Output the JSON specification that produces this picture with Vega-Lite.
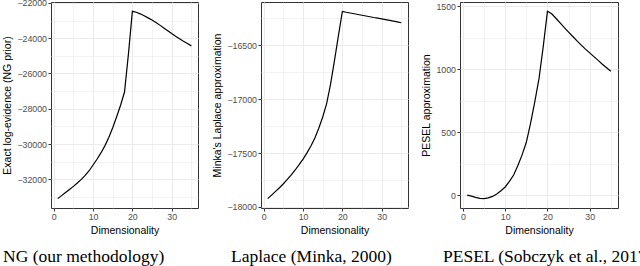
{
  "$schema": "https://vega.github.io/schema/vega-lite/v6.json",
  "padding": {"left": 2, "top": -2, "right": 0, "bottom": 0},
  "background": "white",
  "datasets": {
    "curves": [
      {"dim": 1, "ng": -33090, "laplace": -17923, "pesel": 0},
      {"dim": 2, "ng": -32920, "laplace": -17890, "pesel": -8},
      {"dim": 3, "ng": -32745, "laplace": -17856, "pesel": -18},
      {"dim": 4, "ng": -32570, "laplace": -17822, "pesel": -25},
      {"dim": 5, "ng": -32395, "laplace": -17785, "pesel": -28},
      {"dim": 6, "ng": -32205, "laplace": -17745, "pesel": -22},
      {"dim": 7, "ng": -31995, "laplace": -17703, "pesel": -10},
      {"dim": 8, "ng": -31770, "laplace": -17657, "pesel": 10},
      {"dim": 9, "ng": -31510, "laplace": -17608, "pesel": 35},
      {"dim": 10, "ng": -31185, "laplace": -17556, "pesel": 65},
      {"dim": 11, "ng": -30860, "laplace": -17498, "pesel": 110},
      {"dim": 12, "ng": -30500, "laplace": -17435, "pesel": 160},
      {"dim": 13, "ng": -30100, "laplace": -17360, "pesel": 235},
      {"dim": 14, "ng": -29620, "laplace": -17270, "pesel": 320},
      {"dim": 15, "ng": -29070, "laplace": -17165, "pesel": 420},
      {"dim": 16, "ng": -28450, "laplace": -17040, "pesel": 570},
      {"dim": 17, "ng": -27800, "laplace": -16860, "pesel": 740},
      {"dim": 18, "ng": -27050, "laplace": -16640, "pesel": 925},
      {"dim": 19, "ng": -24900, "laplace": -16410, "pesel": 1180},
      {"dim": 20, "ng": -22480, "laplace": -16184, "pesel": 1460},
      {"dim": 21, "ng": -22530, "laplace": -16192, "pesel": 1440},
      {"dim": 22, "ng": -22620, "laplace": -16199, "pesel": 1405},
      {"dim": 23, "ng": -22730, "laplace": -16206, "pesel": 1368},
      {"dim": 24, "ng": -22850, "laplace": -16213, "pesel": 1330},
      {"dim": 25, "ng": -22970, "laplace": -16220, "pesel": 1295},
      {"dim": 26, "ng": -23110, "laplace": -16227, "pesel": 1260},
      {"dim": 27, "ng": -23260, "laplace": -16234, "pesel": 1225},
      {"dim": 28, "ng": -23420, "laplace": -16241, "pesel": 1192},
      {"dim": 29, "ng": -23580, "laplace": -16247, "pesel": 1160},
      {"dim": 30, "ng": -23740, "laplace": -16253, "pesel": 1130},
      {"dim": 31, "ng": -23890, "laplace": -16260, "pesel": 1100},
      {"dim": 32, "ng": -24030, "laplace": -16267, "pesel": 1070},
      {"dim": 33, "ng": -24170, "laplace": -16274, "pesel": 1040},
      {"dim": 34, "ng": -24300, "laplace": -16282, "pesel": 1012},
      {"dim": 35, "ng": -24435, "laplace": -16290, "pesel": 984}
    ]
  },
  "data": {"name": "curves"},
  "bounds": "flush",
  "spacing": 63,
  "hconcat": [
    {
      "width": 147,
      "height": 206,
      "title": {"text": "NG (our methodology)", "dx": -48},
      "mark": {"type": "line", "color": "black", "strokeWidth": 1.2},
      "encoding": {
        "x": {
          "field": "dim", "type": "quantitative",
          "scale": {"domain": [-0.7, 36.7], "nice": false, "zero": false},
          "axis": {"title": "Dimensionality", "values": [0, 5, 10, 15, 20, 25, 30, 35],
            "labelExpr": "datum.value % 10 === 0 ? datum.label : ''",
            "tickOpacity": {"condition": {"test": "datum.value % 10 !== 0", "value": 0}, "value": 1},
            "gridWidth": {"condition": {"test": "datum.value % 10 !== 0", "value": 0.6}, "value": 1}}
        },
        "y": {
          "field": "ng", "type": "quantitative",
          "scale": {"domain": [-33620, -21950], "nice": false, "zero": false},
          "axis": {"title": "Exact log-evidence (NG prior)", "format": "d",
            "values": [-33000, -32000, -31000, -30000, -29000, -28000, -27000, -26000, -25000, -24000, -23000, -22000],
            "labelExpr": "datum.value % 2000 === 0 ? datum.label : ''",
            "tickOpacity": {"condition": {"test": "datum.value % 2000 !== 0", "value": 0}, "value": 1},
            "gridWidth": {"condition": {"test": "datum.value % 2000 !== 0", "value": 0.6}, "value": 1}}
        }
      }
    },
    {
      "bounds": "flush",
      "spacing": 52,
      "hconcat": [
        {
          "width": 147,
          "height": 206,
          "title": {"text": "Laplace (Minka, 2000)", "dx": -30},
          "mark": {"type": "line", "color": "black", "strokeWidth": 1.2},
          "encoding": {
            "x": {
              "field": "dim", "type": "quantitative",
              "scale": {"domain": [-0.7, 36.7], "nice": false, "zero": false},
              "axis": {"title": "Dimensionality", "values": [0, 5, 10, 15, 20, 25, 30, 35],
                "labelExpr": "datum.value % 10 === 0 ? datum.label : ''",
                "tickOpacity": {"condition": {"test": "datum.value % 10 !== 0", "value": 0}, "value": 1},
                "gridWidth": {"condition": {"test": "datum.value % 10 !== 0", "value": 0.6}, "value": 1}}
            },
            "y": {
              "field": "laplace", "type": "quantitative",
              "scale": {"domain": [-18010, -16097], "nice": false, "zero": false},
              "axis": {"title": "Minka's Laplace approximation", "format": "d",
                "values": [-18000, -17750, -17500, -17250, -17000, -16750, -16500, -16250],
                "labelExpr": "datum.value % 500 === 0 ? datum.label : ''",
                "tickOpacity": {"condition": {"test": "datum.value % 500 !== 0", "value": 0}, "value": 1},
                "gridWidth": {"condition": {"test": "datum.value % 500 !== 0", "value": 0.6}, "value": 1}}
            }
          }
        },
        {
          "width": 158,
          "height": 206,
          "title": {"text": "PESEL (Sobczyk et al., 2017)", "dx": -17},
          "mark": {"type": "line", "color": "black", "strokeWidth": 1.2},
          "encoding": {
            "x": {
              "field": "dim", "type": "quantitative",
              "scale": {"domain": [-0.7, 36.7], "nice": false, "zero": false},
              "axis": {"title": "Dimensionality", "values": [0, 5, 10, 15, 20, 25, 30, 35],
                "labelExpr": "datum.value % 10 === 0 ? datum.label : ''",
                "tickOpacity": {"condition": {"test": "datum.value % 10 !== 0", "value": 0}, "value": 1},
                "gridWidth": {"condition": {"test": "datum.value % 10 !== 0", "value": 0.6}, "value": 1}}
            },
            "y": {
              "field": "pesel", "type": "quantitative",
              "scale": {"domain": [-102, 1534], "nice": false, "zero": false},
              "axis": {"title": "PESEL approximation", "format": "d",
                "values": [0, 250, 500, 750, 1000, 1250, 1500],
                "labelExpr": "datum.value % 500 === 0 ? datum.label : ''",
                "tickOpacity": {"condition": {"test": "datum.value % 500 !== 0", "value": 0}, "value": 1},
                "gridWidth": {"condition": {"test": "datum.value % 500 !== 0", "value": 0.6}, "value": 1}}
            }
          }
        }
      ]
    }
  ],
  "config": {
    "font": "Liberation Sans",
    "view": {"stroke": "#333333", "strokeWidth": 1},
    "axis": {
      "domain": false,
      "tickColor": "#333333",
      "tickSize": 3,
      "tickWidth": 1,
      "labelFont": "Liberation Sans",
      "labelFontSize": 8.8,
      "labelColor": "#4D4D4D",
      "labelPadding": 1.5,
      "labelOverlap": false,
      "titleFont": "Liberation Sans",
      "titleFontSize": 10.5,
      "titleFontWeight": "normal",
      "titleColor": "black",
      "titlePadding": 4,
      "gridColor": "#EBEBEB"
    },
    "title": {
      "orient": "bottom",
      "anchor": "start",
      "frame": "group",
      "font": "Liberation Serif",
      "fontSize": 17.5,
      "fontWeight": "normal",
      "color": "black",
      "offset": 12
    }
  }
}
